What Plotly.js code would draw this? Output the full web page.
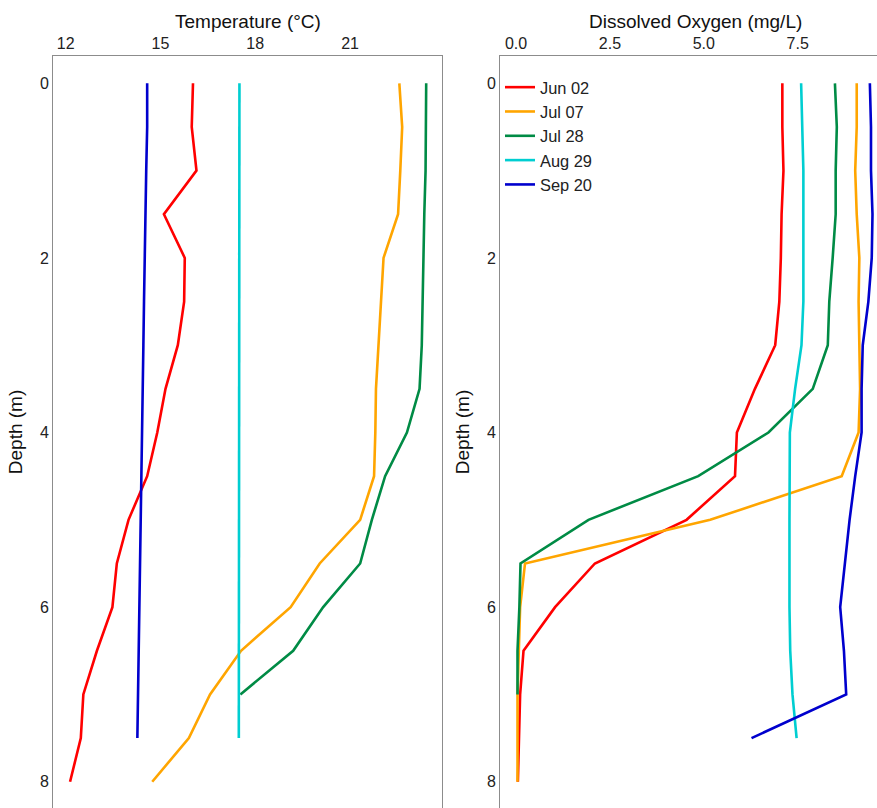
<!DOCTYPE html>
<html>
<head>
<meta charset="utf-8">
<script src="https://cdn.plot.ly/plotly-3.0.1.min.js"></script>
<style>html,body{margin:0;padding:0;background:#fff;}#chart{width:877px;height:808px;}</style>
</head>
<body>
<div id="chart"></div>
<script>
// ---- data ----
const dates = ["Jun 02", "Jul 07", "Jul 28", "Aug 29", "Sep 20"];
const colors = ["#FF0000", "#FFA500", "#008B45", "#00CED1", "#0000CD"];

const depthJun02 = [0,0.5,1,1.5,2,2.5,3,3.5,4,4.5,5,5.5,6,6.5,7,7.5,8];
const depthJul07 = [0,0.5,1,1.5,2,2.5,3,3.5,4,4.5,5,5.5,6,6.5,7,7.5,8];
const depthJul28 = [0,0.5,1,1.5,2,2.5,3,3.5,4,4.5,5,5.5,6,6.5,7];
const depthAug29 = [0,0.5,1,1.5,2,2.5,3,3.5,4,4.5,5,5.5,6,6.5,7,7.5];
const depthSep20 = [0,0.5,1,1.5,2,2.5,3,3.5,4,4.5,5,5.5,6,6.5,7,7.5];

const tempJun02 = [16.03,15.99,16.14,15.11,15.77,15.75,15.55,15.16,14.90,14.58,13.99,13.62,13.48,12.99,12.56,12.48,12.14];
const tempJul07 = [22.56,22.65,22.59,22.52,22.06,21.98,21.88,21.82,21.80,21.76,21.32,20.04,19.12,17.55,16.57,15.90,14.74];
const tempJul28 = [23.41,23.41,23.39,23.35,23.32,23.29,23.27,23.20,22.80,22.11,21.69,21.32,20.15,19.20,17.53];
const tempAug29 = [17.50,17.50,17.50,17.50,17.50,17.50,17.50,17.50,17.50,17.50,17.50,17.48,17.48,17.48,17.48,17.48];
const tempSep20 = [14.58,14.58,14.55,14.52,14.50,14.48,14.46,14.44,14.42,14.40,14.38,14.36,14.33,14.30,14.28,14.27];

const doJun02 = [7.09,7.09,7.12,7.07,7.05,7.01,6.90,6.36,5.88,5.83,4.54,2.10,1.04,0.20,0.11,0.09,0.05];
const doJul07 = [9.07,9.07,9.03,9.07,9.14,9.12,9.14,9.16,9.12,8.67,5.17,0.24,0.11,0.07,0.04,0.04,0.04];
const doJul28 = [8.49,8.54,8.51,8.51,8.43,8.34,8.30,7.90,6.72,4.85,1.93,0.12,0.09,0.04,0.04];
const doAug29 = [7.59,7.62,7.65,7.65,7.65,7.65,7.60,7.43,7.29,7.28,7.28,7.28,7.28,7.30,7.36,7.47];
const doSep20 = [9.42,9.45,9.45,9.49,9.47,9.38,9.23,9.20,9.20,9.03,8.88,8.76,8.63,8.73,8.79,6.27];

const tempTicks = [12, 15, 18, 21];
const tempTickText = ["12", "15", "18", "21"];
const doTicks = [0, 2.5, 5, 7.5];
const doTickText = ["0.0", "2.5", "5.0", "7.5"];
const depthTicks = [0, 2, 4, 6, 8];
const depthTickText = ["0", "2", "4", "6", "8"];

const depths = [depthJun02, depthJul07, depthJul28, depthAug29, depthSep20];
const temps = [tempJun02, tempJul07, tempJul28, tempAug29, tempSep20];
const dos = [doJun02, doJul07, doJul28, doAug29, doSep20];

// ---- traces ----
const traces = [];
for (let i = 0; i < dates.length; i++) {
  traces.push({
    x: temps[i], y: depths[i], xaxis: "x", yaxis: "y",
    type: "scatter", mode: "lines", name: dates[i], showlegend: false,
    line: {color: colors[i], width: 2.6}
  });
}
for (let i = 0; i < dates.length; i++) {
  traces.push({
    x: dos[i], y: depths[i], xaxis: "x2", yaxis: "y2",
    type: "scatter", mode: "lines", name: dates[i], showlegend: true,
    line: {color: colors[i], width: 2.6}
  });
}

const W = 877, H = 808;
const font = {family: "Liberation Sans, Arial, sans-serif", size: 16, color: "#222"};
const titleFont = {family: "Liberation Sans, Arial, sans-serif", size: 19, color: "#111"};
const lineCol = "#8c8c8c";

const layout = {
  width: W, height: H,
  margin: {l: 0, r: 0, t: 0, b: 0},
  paper_bgcolor: "#fff", plot_bgcolor: "#fff",
  font: font,
  showlegend: true,
  legend: {
    x: 500 / W, xanchor: "left", y: 1 - 70 / H, yanchor: "top",
    bgcolor: "rgba(0,0,0,0)", borderwidth: 0,
    font: {family: "Liberation Sans, Arial, sans-serif", size: 16.4, color: "#222"},
    traceorder: "normal"
  },
  xaxis: {
    domain: [53 / W, 442 / W], range: [11.6, 23.91], side: "top",
    tickvals: tempTicks, ticktext: tempTickText, ticks: "",
    showgrid: false, zeroline: false,
    showline: true, mirror: true, linecolor: lineCol, linewidth: 1,
    tickfont: font,
    anchor: "y"
  },
  yaxis: {
    domain: [0, 1 - 56 / H], range: [8.301, -0.313],
    tickvals: depthTicks, ticktext: depthTickText, ticks: "",
    showgrid: false, zeroline: false,
    showline: true, mirror: true, linecolor: lineCol, linewidth: 1,
    tickfont: font,
    title: {text: "Depth (m)", font: titleFont, standoff: 12},
    anchor: "x"
  },
  xaxis2: {
    domain: [500 / W, 1], range: [-0.426, 9.61], side: "top",
    tickvals: doTicks, ticktext: doTickText, ticks: "",
    showgrid: false, zeroline: false,
    showline: true, mirror: true, linecolor: lineCol, linewidth: 1,
    tickfont: font,
    anchor: "y2"
  },
  yaxis2: {
    domain: [0, 1 - 56 / H], range: [8.301, -0.313],
    tickvals: depthTicks, ticktext: depthTickText, ticks: "",
    showgrid: false, zeroline: false,
    showline: true, mirror: false, linecolor: lineCol, linewidth: 1,
    tickfont: font,
    title: {text: "Depth (m)", font: titleFont, standoff: 12},
    anchor: "x2"
  },
  annotations: [{
    text: "Temperature (°C)", xref: "paper", yref: "paper",
    x: 247.5 / W, y: 1 - 21 / H, xanchor: "center", yanchor: "middle",
    showarrow: false, font: titleFont
  }, {
    text: "Dissolved Oxygen (mg/L)", xref: "paper", yref: "paper",
    x: 695 / W, y: 1 - 21 / H, xanchor: "center", yanchor: "middle",
    showarrow: false, font: titleFont
  }]
};

Plotly.newPlot("chart", traces, layout, {displayModeBar: false, staticPlot: true});
</script>
</body>
</html>
